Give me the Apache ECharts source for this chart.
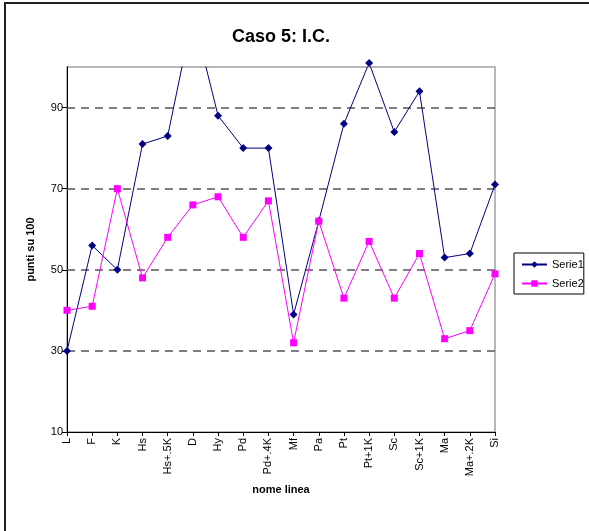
<!DOCTYPE html>
<html>
<head>
<meta charset="utf-8">
<script src="https://cdn.jsdelivr.net/npm/echarts@6/dist/echarts.min.js"></script>
<style>html,body{margin:0;padding:0;background:#fff}#c{width:589px;height:531px}</style>
</head>
<body>
<div id="c"></div>
<script>
const categories = ['L','F','K','Hs','Hs+.5K','D','Hy','Pd','Pd+.4K','Mf','Pa','Pt','Pt+1K','Sc','Sc+1K','Ma','Ma+.2K','Si'];
const serie1 = [30,56,50,81,83,113,88,80,80,39,62,86,101,84,94,53,54,71];
const serie2 = [40,41,70,48,58,66,68,58,67,32,62,43,57,43,54,33,35,49];
const yTicks = [10,30,50,70,90];
const gridValues = [30,50,70,90];
const yMin = 10, yMax = 100;

const FONT = '"Liberation Sans", Arial, sans-serif';
const chart = echarts.init(document.getElementById('c'), null, {renderer:'canvas'});
chart.setOption({
  animation:false,
  backgroundColor:'#fff',
  textStyle:{fontFamily:FONT},
  title:{
    text:'Caso 5: I.C.', left:227, top:23,
    textStyle:{fontFamily:FONT,fontSize:18,fontWeight:'bold',color:'#000'}
  },
  graphic:[
    {type:'line',shape:{x1:5,y1:3,x2:5,y2:531},style:{stroke:'#222',lineWidth:2},silent:true},
    {type:'line',shape:{x1:4,y1:3,x2:589,y2:3},style:{stroke:'#222',lineWidth:2},silent:true}
  ],
  legend:{
    orient:'vertical', left:514, top:253,
    padding:[6,0,5,7], itemGap:8, itemWidth:25, itemHeight:8,
    borderColor:'#000', borderWidth:1,
    textStyle:{fontFamily:FONT,fontSize:11,color:'#000'},
    data:['Serie1','Serie2']
  },
  grid:{left:67,right:94,top:67,bottom:99,show:true,borderColor:'#a0a0a0',borderWidth:1.5,backgroundColor:'transparent'},
  xAxis:{
    type:'category', data:categories, boundaryGap:false,
    name:'nome linea', nameLocation:'middle', nameGap:50,
    nameTextStyle:{fontFamily:FONT,fontSize:11,fontWeight:'bold',color:'#000'},
    axisLine:{lineStyle:{color:'#000',width:1}},
    axisTick:{show:true,alignWithLabel:true,length:4,lineStyle:{color:'#000'}},
    axisLabel:{rotate:90,margin:6,fontFamily:FONT,fontSize:11,color:'#000',interval:0},
    splitLine:{show:false}
  },
  yAxis:{
    type:'value', min:yMin, max:yMax, interval:20,
    name:'punti su 100', nameLocation:'middle', nameGap:31, nameRotate:90,
    nameTextStyle:{fontFamily:FONT,fontSize:11,fontWeight:'bold',color:'#000'},
    axisLine:{show:true,lineStyle:{color:'#000',width:1}},
    axisTick:{show:true,length:5,lineStyle:{color:'#000'},customValues:yTicks},
    axisLabel:{margin:4,fontFamily:FONT,fontSize:11,color:'#000',customValues:yTicks},
    splitLine:{show:false}
  },
  series:[
    {
      name:'Serie1', type:'line', data:serie1,
      symbol:'diamond', symbolSize:8,
      lineStyle:{color:'#000080',width:1},
      itemStyle:{color:'#000080'},
      z:2,
      markLine:{
        silent:true, symbol:'none', z:1,
        label:{show:false},
        lineStyle:{color:'#555',type:[8,6],width:1.5},
        data:gridValues.map(v=>({yAxis:v}))
      }
    },
    {
      // markers of Serie1 just above the top of the plot (Excel still draws them)
      name:'Serie1', type:'scatter', clip:false,
      data:serie1.map(v => (v > yMax && v < yMax + 3) ? v : null),
      symbol:'diamond', symbolSize:8,
      itemStyle:{color:'#000080',opacity:1}, z:2, silent:true
    },
    {
      name:'Serie2', type:'line', data:serie2,
      symbol:'rect', symbolSize:7,
      lineStyle:{color:'#ff00ff',width:1},
      itemStyle:{color:'#ff00ff'},
      z:3
    }
  ]
});
</script>
</body>
</html>
